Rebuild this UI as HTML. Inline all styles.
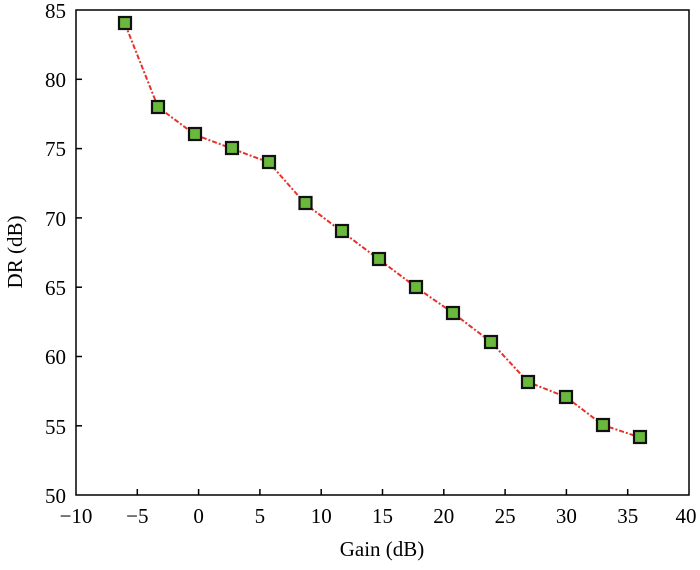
<!DOCTYPE html>
<html><head><style>body{margin:0;background:#fff}</style></head><body>
<svg width="700" height="565" viewBox="0 0 700 565" xmlns="http://www.w3.org/2000/svg" font-family="Liberation Serif, serif" font-size="21">
<rect x="76" y="10" width="613" height="485" fill="none" stroke="#000" stroke-width="1.5"/>
<g stroke="#000" stroke-width="1.5">
<line x1="137.3" y1="495" x2="137.3" y2="489"/><line x1="198.6" y1="495" x2="198.6" y2="489"/><line x1="259.9" y1="495" x2="259.9" y2="489"/><line x1="321.2" y1="495" x2="321.2" y2="489"/><line x1="382.5" y1="495" x2="382.5" y2="489"/><line x1="443.8" y1="495" x2="443.8" y2="489"/><line x1="505.1" y1="495" x2="505.1" y2="489"/><line x1="566.4" y1="495" x2="566.4" y2="489"/><line x1="627.7" y1="495" x2="627.7" y2="489"/>
<line x1="76" y1="79.3" x2="82" y2="79.3"/><line x1="76" y1="148.6" x2="82" y2="148.6"/><line x1="76" y1="217.9" x2="82" y2="217.9"/><line x1="76" y1="287.2" x2="82" y2="287.2"/><line x1="76" y1="356.5" x2="82" y2="356.5"/><line x1="76" y1="425.8" x2="82" y2="425.8"/>
</g>
<g text-anchor="middle">
<text x="76" y="523">−10</text><text x="137.3" y="523">−5</text><text x="198.6" y="523">0</text><text x="259.9" y="523">5</text><text x="321.2" y="523">10</text><text x="382.5" y="523">15</text><text x="443.8" y="523">20</text><text x="505.1" y="523">25</text><text x="566.4" y="523">30</text><text x="627.7" y="523">35</text><text x="686" y="523">40</text>
<text x="382" y="556">Gain (dB)</text>
</g>
<g text-anchor="end">
<text x="66" y="18">85</text><text x="66" y="87">80</text><text x="66" y="156">75</text><text x="66" y="226">70</text><text x="66" y="295">65</text><text x="66" y="364">60</text><text x="66" y="434">55</text><text x="66" y="503">50</text>
</g>
<text transform="translate(22,252) rotate(-90)" text-anchor="middle">DR (dB)</text>
<polyline fill="none" stroke="#e8302a" stroke-width="2" stroke-dasharray="5,2,2,2" points="125,23.9 158,107 195,134.7 232,148.6 269,162.5 305.5,204 342,231.7 379,259.4 416,287.2 453,313 491,342 528,382 566,397 603,425 640,437.5"/>
<g fill="#6ab83c" stroke="#111" stroke-width="2.2">
<rect x="119" y="17" width="12" height="12"/><rect x="152" y="101" width="12" height="12"/><rect x="189" y="128" width="12" height="12"/><rect x="226" y="142" width="12" height="12"/><rect x="263" y="156" width="12" height="12"/><rect x="299.5" y="197" width="12" height="12"/><rect x="336" y="225" width="12" height="12"/><rect x="373" y="253" width="12" height="12"/><rect x="410" y="281" width="12" height="12"/><rect x="447" y="307" width="12" height="12"/><rect x="485" y="336" width="12" height="12"/><rect x="522" y="376" width="12" height="12"/><rect x="560" y="391" width="12" height="12"/><rect x="597" y="419" width="12" height="12"/><rect x="634" y="431" width="12" height="12"/>
</g>
</svg>
</body></html>
